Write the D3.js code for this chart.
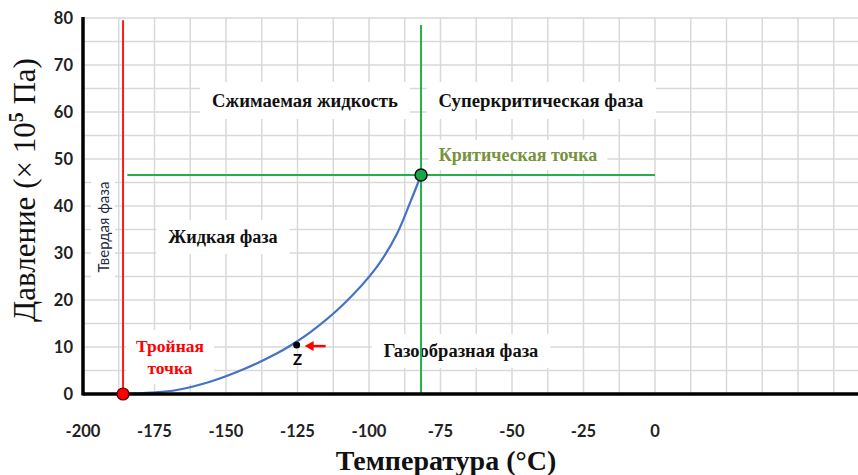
<!DOCTYPE html>
<html>
<head>
<meta charset="utf-8">
<script src="https://cdn.jsdelivr.net/npm/d3@7"></script>
<style>
  body { margin: 0; background: #fff; }
  svg { display: block; }
  .tick-label { font-family: Lato, "Open Sans", sans-serif; font-weight: bold; font-size: 16.5px; fill: #222; }
  .phase { font-family: "Liberation Serif", "DejaVu Serif", serif; font-weight: bold; }
</style>
</head>
<body>
<script>
// phase diagram (methane-like), temperature in °C, pressure in 10^5 Pa
var xTicks = [-200, -175, -150, -125, -100, -75, -50, -25, 0];
var yTicks = [0, 10, 20, 30, 40, 50, 60, 70, 80];

// vaporisation curve: [T, P]
var curveT = [-185.9, -176, -167.2, -155.6, -144.1, -132.3, -125.9, -120.6, -109.1, -97.3, -90.3, -85.7, -81.8];
var curveP = [0, 0.3, 0.85, 2.6, 5.2, 8.6, 10.9, 13.1, 19.0, 27.0, 34.0, 40.6, 46.6];

var triplePoint = [-186, 0];
var criticalPoint = [-81.8, 46.6];
var pointZ = [-125.3, 10.4];

var width = 858, height = 475;
var x = d3.scaleLinear().domain([-200, 0]).range([83, 655]);
var y = d3.scaleLinear().domain([0, 80]).range([394, 18]);
var xMax = x.invert(width);

var svg = d3.select('body').append('svg')
  .attr('width', width)
  .attr('height', height);

// grid
var gridEl = svg.append('g').attr('class', 'grid');
var gridX = d3.range(-200 + 12.5, xMax, 12.5);
var gridY = d3.range(5, 81, 5);
gridEl.selectAll('.gx').data(gridX).enter().append('line')
  .attr('x1', function (d) { return x(d); }).attr('x2', function (d) { return x(d); })
  .attr('y1', y(80)).attr('y2', y(0))
  .attr('stroke', '#d9d9d9').attr('stroke-width', 1.5);
gridEl.selectAll('.gy').data(gridY).enter().append('line')
  .attr('x1', x(-200)).attr('x2', width)
  .attr('y1', function (d) { return y(d); }).attr('y2', function (d) { return y(d); })
  .attr('stroke', '#d9d9d9').attr('stroke-width', 1.5);

// text with a white box behind it
var boxLayer = svg.append('g');
var textLayer = svg.append('g');
function label(lines, cx, cy, size, color, padX, padY, lineH) {
  var t = textLayer.append('text').attr('class', 'phase')
    .attr('text-anchor', 'middle')
    .style('font-size', size + 'px')
    .style('fill', color);
  lines.forEach(function (s, i) {
    t.append('tspan').attr('x', cx).attr('y', cy + i * (lineH || size * 1.3)).text(s);
  });
  var b = t.node().getBBox();
  boxLayer.append('rect')
    .attr('x', b.x - padX).attr('y', b.y - padY)
    .attr('width', b.width + 2 * padX).attr('height', b.height + 2 * padY)
    .attr('fill', '#fff');
  return t;
}

// phase boundaries
svg.append('line')
  .attr('x1', x(triplePoint[0])).attr('x2', x(triplePoint[0]))
  .attr('y1', y(79.5)).attr('y2', y(0))
  .attr('stroke', '#ff1a1a').attr('stroke-width', 2);
svg.append('line')
  .attr('x1', x(criticalPoint[0])).attr('x2', x(criticalPoint[0]))
  .attr('y1', y(78.5)).attr('y2', y(0))
  .attr('stroke', '#22b04b').attr('stroke-width', 2);
svg.append('line')
  .attr('x1', x(-184.5)).attr('x2', x(0))
  .attr('y1', y(criticalPoint[1])).attr('y2', y(criticalPoint[1]))
  .attr('stroke', '#22b04b').attr('stroke-width', 2);

label(['Сжимаемая жидкость'], 305, 107, 18.7, '#111', 12, 8);
label(['Суперкритическая фаза'], 541, 107, 18.7, '#111', 12, 8);
label(['Критическая точка'], 518, 161, 18, '#76923c', 10, 5);
label(['Жидкая фаза'], 223, 243, 18.2, '#111', 12, 7);
label(['Газообразная фаза'], 461, 357, 18.5, '#111', 12, 7);
label(['Тройная', 'точка'], 170, 352, 17.5, '#ff0000', 10, 6, 22);

// solid phase label, rotated
var solid = textLayer.append('text')
  .attr('transform', 'translate(109,227) rotate(-90)')
  .attr('text-anchor', 'middle')
  .style('font-family', 'Lato, "Open Sans", sans-serif')
  .style('font-size', '15px')
  .style('fill', '#1f2a44')
  .text('Твердая фаза');
var sb = solid.node().getBBox();
boxLayer.append('rect')
  .attr('transform', 'translate(109,227) rotate(-90)')
  .attr('x', sb.x - 8).attr('y', sb.y - 3)
  .attr('width', sb.width + 16).attr('height', sb.height + 6)
  .attr('fill', '#fff');

// vaporisation curve
var curveData = curveT.map(function (t, i) { return [t, curveP[i]]; });
svg.append('path')
  .datum(curveData)
  .attr('fill', 'none')
  .attr('stroke', '#4472c4')
  .attr('stroke-width', 2.2)
  .attr('d', d3.line()
    .x(function (d) { return x(d[0]); })
    .y(function (d) { return y(d[1]); })
    .curve(d3.curveCatmullRom.alpha(0.5)));

// axes
svg.append('line')
  .attr('x1', x(-200)).attr('x2', width)
  .attr('y1', y(0)).attr('y2', y(0))
  .attr('stroke', '#000').attr('stroke-width', 3.5);
svg.append('line')
  .attr('x1', x(-200)).attr('x2', x(-200))
  .attr('y1', y(80) - 1).attr('y2', y(0) + 1.5)
  .attr('stroke', '#000').attr('stroke-width', 3.5);

svg.append('g').selectAll('text').data(yTicks).enter().append('text')
  .attr('class', 'tick-label')
  .attr('x', 73)
  .attr('y', function (d) { return y(d) + 6; })
  .attr('text-anchor', 'end')
  .text(function (d) { return d; });

svg.append('g').selectAll('text').data(xTicks).enter().append('text')
  .attr('class', 'tick-label')
  .attr('x', function (d) { return x(d); })
  .attr('y', 437)
  .attr('text-anchor', 'middle')
  .text(function (d) { return d; });

// points
svg.append('circle')
  .attr('cx', x(triplePoint[0])).attr('cy', y(triplePoint[1]))
  .attr('r', 6).attr('fill', '#ff0000').attr('stroke', '#5a0000').attr('stroke-width', 1.2);
svg.append('circle')
  .attr('cx', x(criticalPoint[0])).attr('cy', y(criticalPoint[1]))
  .attr('r', 6).attr('fill', '#1aa64a').attr('stroke', '#111').attr('stroke-width', 1.5);
svg.append('circle')
  .attr('cx', x(pointZ[0])).attr('cy', y(pointZ[1]))
  .attr('r', 3.5).attr('fill', '#000');
svg.append('text')
  .attr('x', x(pointZ[0]) + 1).attr('y', y(pointZ[1]) + 20)
  .attr('text-anchor', 'middle')
  .style('font-family', 'Lato, sans-serif').style('font-weight', 'bold').style('font-size', '15px')
  .text('Z');

// arrow pointing at Z
var ax = x(pointZ[0]), ay = y(pointZ[1]);
svg.append('line')
  .attr('x1', ax + 29).attr('x2', ax + 14)
  .attr('y1', ay + 1).attr('y2', ay + 1)
  .attr('stroke', '#ff0000').attr('stroke-width', 2.5);
svg.append('path')
  .attr('d', 'M' + (ax + 8) + ',' + (ay + 1) + 'L' + (ax + 17) + ',' + (ay - 4) + 'L' + (ax + 17) + ',' + (ay + 6) + 'Z')
  .attr('fill', '#ff0000');

// axis titles
svg.append('text')
  .attr('x', 446).attr('y', 470)
  .attr('text-anchor', 'middle')
  .style('font-family', '"Liberation Serif", serif')
  .style('font-weight', 'bold')
  .style('font-size', '28px')
  .style('fill', '#111')
  .text('Температура (°C)');

var yTitle = svg.append('text')
  .attr('transform', 'translate(35,190) rotate(-90)')
  .attr('text-anchor', 'middle')
  .style('font-family', '"Liberation Serif", serif')
  .style('font-size', '31px')
  .style('fill', '#111');
yTitle.append('tspan').text('Давление (× 10');
yTitle.append('tspan').attr('dy', -12).style('font-size', '20px').style('font-weight', 'bold').text('5');
yTitle.append('tspan').attr('dy', 12).text(' Па)');
</script>
</body>
</html>
